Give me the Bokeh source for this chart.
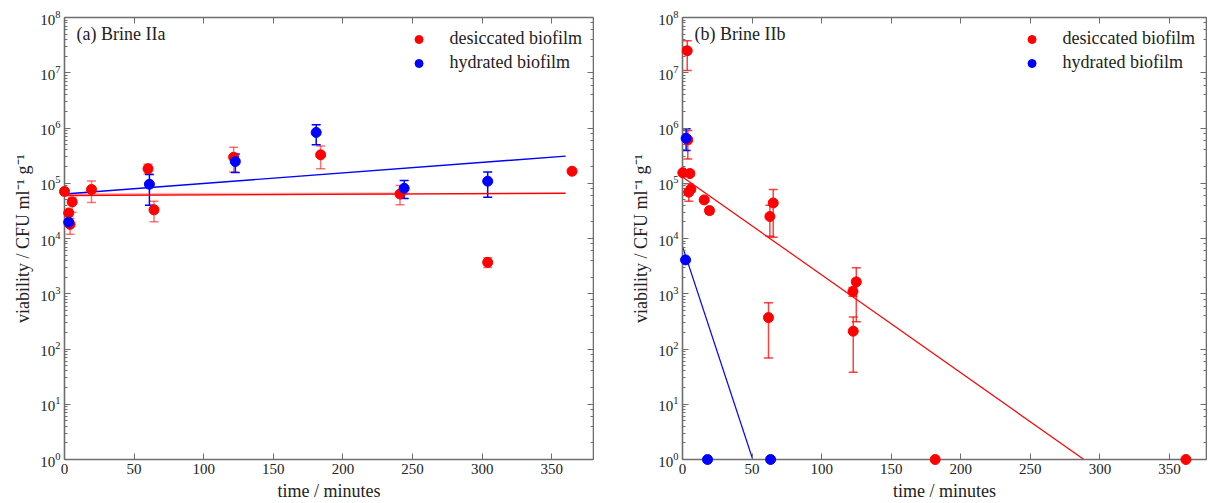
from bokeh.plotting import figure
from bokeh.models import (Range1d, LinearAxis, LogAxis, FixedTicker, Whisker, TeeHead,
                          ColumnDataSource, Legend, LegendItem, Label)
from bokeh.layouts import row
from bokeh.embed import file_html
from bokeh.resources import INLINE

FONT = "Liberation Serif"

# ---------------- Panel (a) Brine IIa ----------------
a_des_t = [0, 3, 4, 5.5, 19.4, 60, 64.3, 121.5, 184, 241, 304, 364.6]
a_des_v = [7.1e4, 2.9e4, 1.8e4, 4.6e4, 7.7e4, 1.83e5, 3.3e4, 2.96e5, 3.27e5, 6.4e4, 3.7e3, 1.65e5]
a_des_hi = [8.0e4, 3.3e4, 2.3e4, 5.5e4, 1.1e5, 2.2e5, 4.7e4, 4.5e5, 4.7e5, 9.1e4, 4.5e3, 1.8e5]
a_des_lo = [6.3e4, 2.5e4, 1.2e4, 3.0e4, 4.5e4, 1.49e5, 2.0e4, 1.6e5, 1.83e5, 4.1e4, 3.0e3, 1.5e5]

a_hyd_t = [3, 61, 122.7, 180.8, 244, 304]
a_hyd_v = [1.97e4, 9.6e4, 2.47e5, 8.3e5, 8.1e4, 1.09e5]
a_hyd_hi = [2.2e4, 1.44e5, 3.4e5, 1.15e6, 1.12e5, 1.6e5]
a_hyd_lo = [1.8e4, 4.0e4, 1.56e5, 5.0e5, 5.3e4, 5.6e4]

a_fit_des_t = [0, 360]
a_fit_des_v = [6.0e4, 6.6e4]
a_fit_des2_t = [0, 248]
a_fit_des2_v = [6.3e4, 6.5e4]
a_fit_hyd_t = [0, 360]
a_fit_hyd_v = [6.4e4, 3.1e5]

# ---------------- Panel (b) Brine IIb ----------------
b_des_t = [0.2, 3.4, 3.8, 5.3, 4.5, 6, 15.6, 19.4, 62.8, 65.2, 61.8, 122.5, 124.9, 122.7, 181.6, 361.8]
b_des_v = [1.55e5, 2.5e7, 6.1e5, 1.5e5, 6.9e4, 7.8e4, 5.0e4, 3.2e4, 2.5e4, 4.4e4, 370, 1.1e3, 1.64e3, 210, 1, 1]
b_des_hi = [1.7e5, 3.8e7, 9.0e5, 1.7e5, 9.8e4, 8.5e4, 5.3e4, 3.6e4, 4.0e4, 7.7e4, 690, 1.3e3, 2.95e3, 380, 1, 1]
b_des_lo = [1.4e5, 1.1e7, 2.76e5, 1.35e5, 4.7e4, 7.0e4, 4.7e4, 2.8e4, 1.1e4, 1.05e4, 69, 0.9e3, 310, 38, 1, 1]

b_hyd_t = [2.6, 2.2, 18, 63.3]
b_hyd_v = [6.5e5, 4.1e3, 1, 1]
b_hyd_hi = [9.7e5, 4.4e3, 1, 1]
b_hyd_lo = [3.9e5, 3.8e3, 1, 1]

b_fit_des_t = [0, 288.5]
b_fit_des_v = [1.3e5, 1]
b_fit_hyd_t = [0, 50.5]
b_fit_hyd_v = [7.2e3, 1]

x_ticks = [0, 50, 100, 150, 200, 250, 300, 350]
RED = "#ff0000"
BLUE = "#0000ff"
AXIS_COLOR = "#6e6e6e"
TEXT_COLOR = "#222222"


def style_axis(ax, labels=True):
    ax.axis_line_color = AXIS_COLOR
    ax.axis_line_width = 1.6
    ax.major_tick_line_color = AXIS_COLOR
    ax.minor_tick_line_color = AXIS_COLOR
    ax.major_tick_in = 6
    ax.major_tick_out = 0
    ax.minor_tick_in = 3
    ax.minor_tick_out = 0
    ax.major_label_text_font = FONT
    ax.major_label_text_font_size = "15px"
    ax.major_label_text_color = TEXT_COLOR
    ax.axis_label_text_font = FONT
    ax.axis_label_text_font_size = "18px"
    ax.axis_label_text_font_style = "normal"
    ax.axis_label_text_color = TEXT_COLOR
    ax.major_label_standoff = 4
    ax.axis_label_standoff = 4
    if not labels:
        ax.major_label_text_font_size = "0px"
        ax.major_label_text_alpha = 0


def make_panel(title, xmax, border_left, frame_w,
               des_t, des_v, des_hi, des_lo, hyd_t, hyd_v, hyd_hi, hyd_lo,
               fits, red_err_alpha):
    p = figure(frame_width=frame_w, frame_height=442, y_axis_type="log",
               x_range=Range1d(0, xmax), y_range=Range1d(1, 1e8),
               output_backend="svg", toolbar_location=None,
               min_border_left=border_left, min_border_right=1,
               min_border_top=17, min_border_bottom=44,
               background_fill_color="white", border_fill_color="white")
    p.outline_line_color = None
    p.xgrid.visible = False
    p.ygrid.visible = False

    xa = p.xaxis[0]
    xa.ticker = FixedTicker(ticks=x_ticks, minor_ticks=[])
    xa.axis_label = "time / minutes"
    style_axis(xa)
    ya = p.yaxis[0]
    ya.axis_label = "viability / CFU ml\u207b\u00b9 g\u207b\u00b9"
    style_axis(ya)

    top = LinearAxis(ticker=FixedTicker(ticks=x_ticks, minor_ticks=[]))
    style_axis(top, labels=False)
    p.add_layout(top, "above")
    right = LogAxis()
    style_axis(right, labels=False)
    p.add_layout(right, "right")

    # fit lines
    for (fx, fy, col, alpha, w) in fits:
        p.line(fx, fy, line_color=col, line_alpha=alpha, line_width=w)

    # error bars
    src_d = ColumnDataSource(dict(t=des_t, v=des_v, hi=des_hi, lo=des_lo))
    src_h = ColumnDataSource(dict(t=hyd_t, v=hyd_v, hi=hyd_hi, lo=hyd_lo))
    wd = Whisker(source=src_d, base="t", upper="hi", lower="lo",
                 line_color=RED, line_alpha=red_err_alpha, line_width=1.5,
                 upper_head=TeeHead(size=9, line_color=RED, line_alpha=red_err_alpha, line_width=1.5),
                 lower_head=TeeHead(size=9, line_color=RED, line_alpha=red_err_alpha, line_width=1.5))
    wh = Whisker(source=src_h, base="t", upper="hi", lower="lo",
                 line_color=BLUE, line_width=1.5,
                 upper_head=TeeHead(size=9, line_color=BLUE, line_width=1.5),
                 lower_head=TeeHead(size=9, line_color=BLUE, line_width=1.5))
    p.add_layout(wd)
    p.add_layout(wh)

    p.scatter("t", "v", source=src_d, size=10, fill_color=RED, line_color=RED, level="overlay")
    p.scatter("t", "v", source=src_h, size=10, fill_color=BLUE, line_color=BLUE, level="overlay")

    # legend with separate dummy glyphs for small dots
    ld = p.scatter([-100], [1e-3], size=8, fill_color=RED, line_color=RED)
    lh = p.scatter([-100], [1e-3], size=8, fill_color=BLUE, line_color=BLUE)
    legend = Legend(items=[LegendItem(label="desiccated biofilm", renderers=[ld]),
                           LegendItem(label="hydrated biofilm", renderers=[lh])],
                    location="top_right", border_line_color=None, background_fill_alpha=0,
                    label_text_font=FONT, label_text_font_size="18px", label_text_color=TEXT_COLOR,
                    glyph_width=20, glyph_height=20, label_height=20, label_standoff=21,
                    spacing=3, padding=0, margin=11)
    p.add_layout(legend)

    p.add_layout(Label(x=8.6, y=10 ** 7.71, text=title, text_font=FONT, text_font_size="18px",
                       text_color=TEXT_COLOR, text_baseline="middle", text_align="left"))
    return p


pa = make_panel("(a) Brine IIa", 380, 64, 529,
                a_des_t, a_des_v, a_des_hi, a_des_lo,
                a_hyd_t, a_hyd_v, a_hyd_hi, a_hyd_lo,
                [(a_fit_des2_t, a_fit_des2_v, RED, 0.3, 2.5),
                 (a_fit_des_t, a_fit_des_v, RED, 1.0, 1.4),
                 (a_fit_hyd_t, a_fit_hyd_v, BLUE, 1.0, 1.4)],
                0.55)
pb = make_panel("(b) Brine IIb", 376.6, 88, 524,
                b_des_t, b_des_v, b_des_hi, b_des_lo,
                b_hyd_t, b_hyd_v, b_hyd_hi, b_hyd_lo,
                [(b_fit_des_t, b_fit_des_v, RED, 1.0, 1.2),
                 (b_fit_hyd_t, b_fit_hyd_v, BLUE, 1.0, 1.2)],
                0.75)

layout = row(pa, pb, spacing=0)
open("out.html", "w").write(file_html(layout, INLINE))
